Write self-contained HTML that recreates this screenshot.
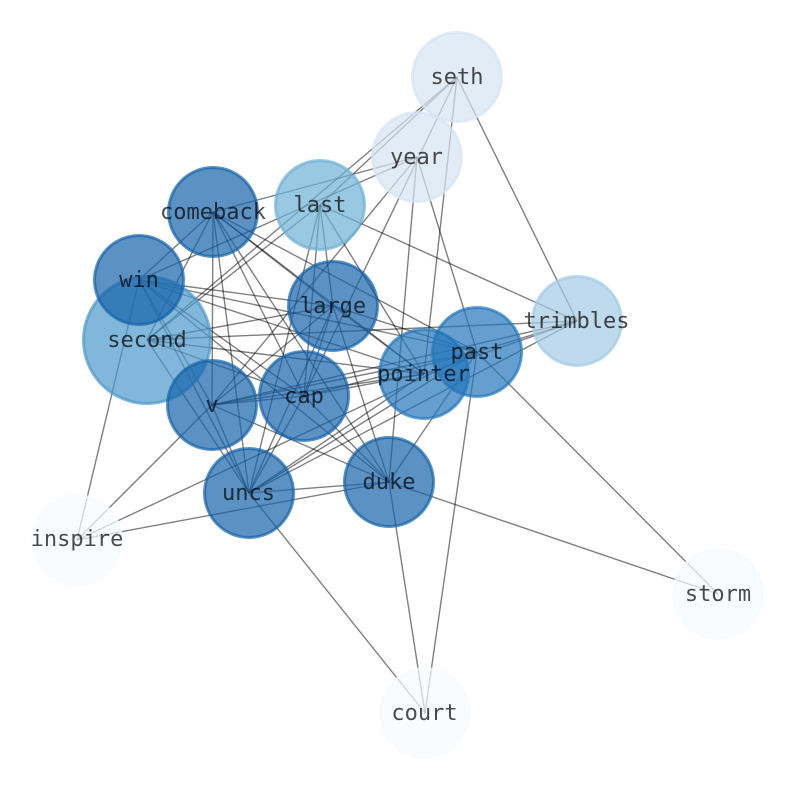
<!DOCTYPE html>
<html><head><meta charset="utf-8"><style>html,body{margin:0;padding:0;background:#fff}svg{display:block}
line{stroke:#000;stroke-opacity:.5;stroke-width:1.4}
circle{stroke-width:3;opacity:1;fill-opacity:.7;stroke-opacity:.7}
text{font-family:"DejaVu Sans Mono","Liberation Mono",monospace;font-size:22px;text-anchor:middle;fill:#000;fill-opacity:.7}
</style></head><body>
<svg width="794" height="790" viewBox="0 0 794 790" xmlns="http://www.w3.org/2000/svg">
<g>
<line x1="457" y1="77" x2="147" y2="340"/><line x1="457" y1="77" x2="320" y2="205"/><line x1="457" y1="77" x2="304" y2="396"/><line x1="457" y1="77" x2="424" y2="374"/><line x1="457" y1="77" x2="577" y2="321"/>
<line x1="417" y1="157" x2="213" y2="212"/><line x1="417" y1="157" x2="139" y2="280"/><line x1="417" y1="157" x2="212" y2="405"/><line x1="417" y1="157" x2="389" y2="482"/><line x1="417" y1="157" x2="477" y2="352"/>
<line x1="320" y1="205" x2="147" y2="340"/><line x1="320" y1="205" x2="577" y2="321"/><line x1="320" y1="205" x2="333" y2="306"/><line x1="320" y1="205" x2="304" y2="396"/><line x1="320" y1="205" x2="249" y2="493"/><line x1="320" y1="205" x2="424" y2="374"/>
<line x1="213" y1="212" x2="139" y2="280"/><line x1="213" y1="212" x2="147" y2="340"/><line x1="213" y1="212" x2="212" y2="405"/><line x1="213" y1="212" x2="304" y2="396"/><line x1="213" y1="212" x2="249" y2="493"/><line x1="213" y1="212" x2="389" y2="482"/><line x1="213" y1="212" x2="333" y2="306"/><line x1="213" y1="212" x2="424" y2="374"/><line x1="213" y1="212" x2="477" y2="352"/>
<line x1="139" y1="280" x2="333" y2="306"/><line x1="139" y1="280" x2="424" y2="374"/><line x1="139" y1="280" x2="477" y2="352"/><line x1="139" y1="280" x2="304" y2="396"/><line x1="139" y1="280" x2="212" y2="405"/><line x1="139" y1="280" x2="249" y2="493"/><line x1="139" y1="280" x2="389" y2="482"/><line x1="139" y1="280" x2="77" y2="540"/>
<line x1="147" y1="340" x2="333" y2="306"/><line x1="147" y1="340" x2="577" y2="321"/><line x1="147" y1="340" x2="424" y2="374"/><line x1="147" y1="340" x2="304" y2="396"/><line x1="147" y1="340" x2="249" y2="493"/>
<line x1="333" y1="306" x2="212" y2="405"/><line x1="333" y1="306" x2="304" y2="396"/><line x1="333" y1="306" x2="249" y2="493"/><line x1="333" y1="306" x2="389" y2="482"/><line x1="333" y1="306" x2="424" y2="374"/><line x1="333" y1="306" x2="477" y2="352"/>
<line x1="212" y1="405" x2="477" y2="352"/><line x1="212" y1="405" x2="424" y2="374"/><line x1="212" y1="405" x2="304" y2="396"/><line x1="212" y1="405" x2="249" y2="493"/><line x1="212" y1="405" x2="389" y2="482"/><line x1="212" y1="405" x2="77" y2="540"/><line x1="212" y1="405" x2="577" y2="321"/>
<line x1="304" y1="396" x2="424" y2="374"/><line x1="304" y1="396" x2="477" y2="352"/><line x1="304" y1="396" x2="249" y2="493"/><line x1="304" y1="396" x2="389" y2="482"/>
<line x1="249" y1="493" x2="424" y2="374"/><line x1="249" y1="493" x2="477" y2="352"/><line x1="249" y1="493" x2="577" y2="321"/><line x1="249" y1="493" x2="389" y2="482"/><line x1="249" y1="493" x2="425" y2="713"/>
<line x1="389" y1="482" x2="77" y2="540"/><line x1="389" y1="482" x2="477" y2="352"/><line x1="389" y1="482" x2="425" y2="713"/><line x1="389" y1="482" x2="718" y2="594"/>
<line x1="77" y1="540" x2="477" y2="352"/>
<line x1="477" y1="352" x2="425" y2="713"/><line x1="477" y1="352" x2="718" y2="594"/><line x1="477" y1="352" x2="577" y2="321"/><line x1="424" y1="374" x2="577" y2="321"/>
</g>
<g>
<circle cx="457" cy="77" r="44.5" fill="#d5e4f3" stroke="#d5e4f3"/>
<circle cx="417" cy="157" r="44.5" fill="#d5e4f3" stroke="#d5e4f3"/>
<circle cx="320" cy="205" r="44.5" fill="#6eb0d6" stroke="#6eb0d6"/>
<circle cx="213" cy="212" r="44.5" fill="#1662aa" stroke="#1662aa"/>
<circle cx="147" cy="340" r="63.5" fill="#4b98cb" stroke="#4b98cb"/>
<circle cx="139" cy="280" r="44.5" fill="#1662aa" stroke="#1662aa"/>
<circle cx="333" cy="306" r="44.5" fill="#1662aa" stroke="#1662aa"/>
<circle cx="577" cy="321" r="44.5" fill="#a2cae4" stroke="#a2cae4"/>
<circle cx="477" cy="352" r="44.5" fill="#2376ba" stroke="#2376ba"/>
<circle cx="424" cy="374" r="44.5" fill="#2376ba" stroke="#2376ba"/>
<circle cx="304" cy="396" r="44.5" fill="#1662aa" stroke="#1662aa"/>
<circle cx="212" cy="405" r="44.5" fill="#1662aa" stroke="#1662aa"/>
<circle cx="249" cy="493" r="44.5" fill="#1662aa" stroke="#1662aa"/>
<circle cx="389" cy="482" r="44.5" fill="#1662aa" stroke="#1662aa"/>
<circle cx="77" cy="540" r="44.5" fill="#f7fbff" stroke="#f7fbff"/>
<circle cx="718" cy="594" r="44.5" fill="#f7fbff" stroke="#f7fbff"/>
<circle cx="425" cy="713" r="44.5" fill="#f7fbff" stroke="#f7fbff"/>
</g>
<g>
<text x="457" y="84">seth</text>
<text x="416.500" y="164">year</text>
<text x="320" y="212">last</text>
<text x="213" y="219">comeback</text>
<text x="139" y="287">win</text>
<text x="147" y="347">second</text>
<text x="333" y="313">large</text>
<text x="576.500" y="328">trimbles</text>
<text x="477" y="359">past</text>
<text x="423.500" y="381">pointer</text>
<text x="304" y="403">cap</text>
<text x="212" y="412">v</text>
<text x="248.500" y="500">uncs</text>
<text x="389" y="489">duke</text>
<text x="77" y="546">inspire</text>
<text x="718" y="601">storm</text>
<text x="424.500" y="720">court</text>
</g>
</svg>
</body></html>
